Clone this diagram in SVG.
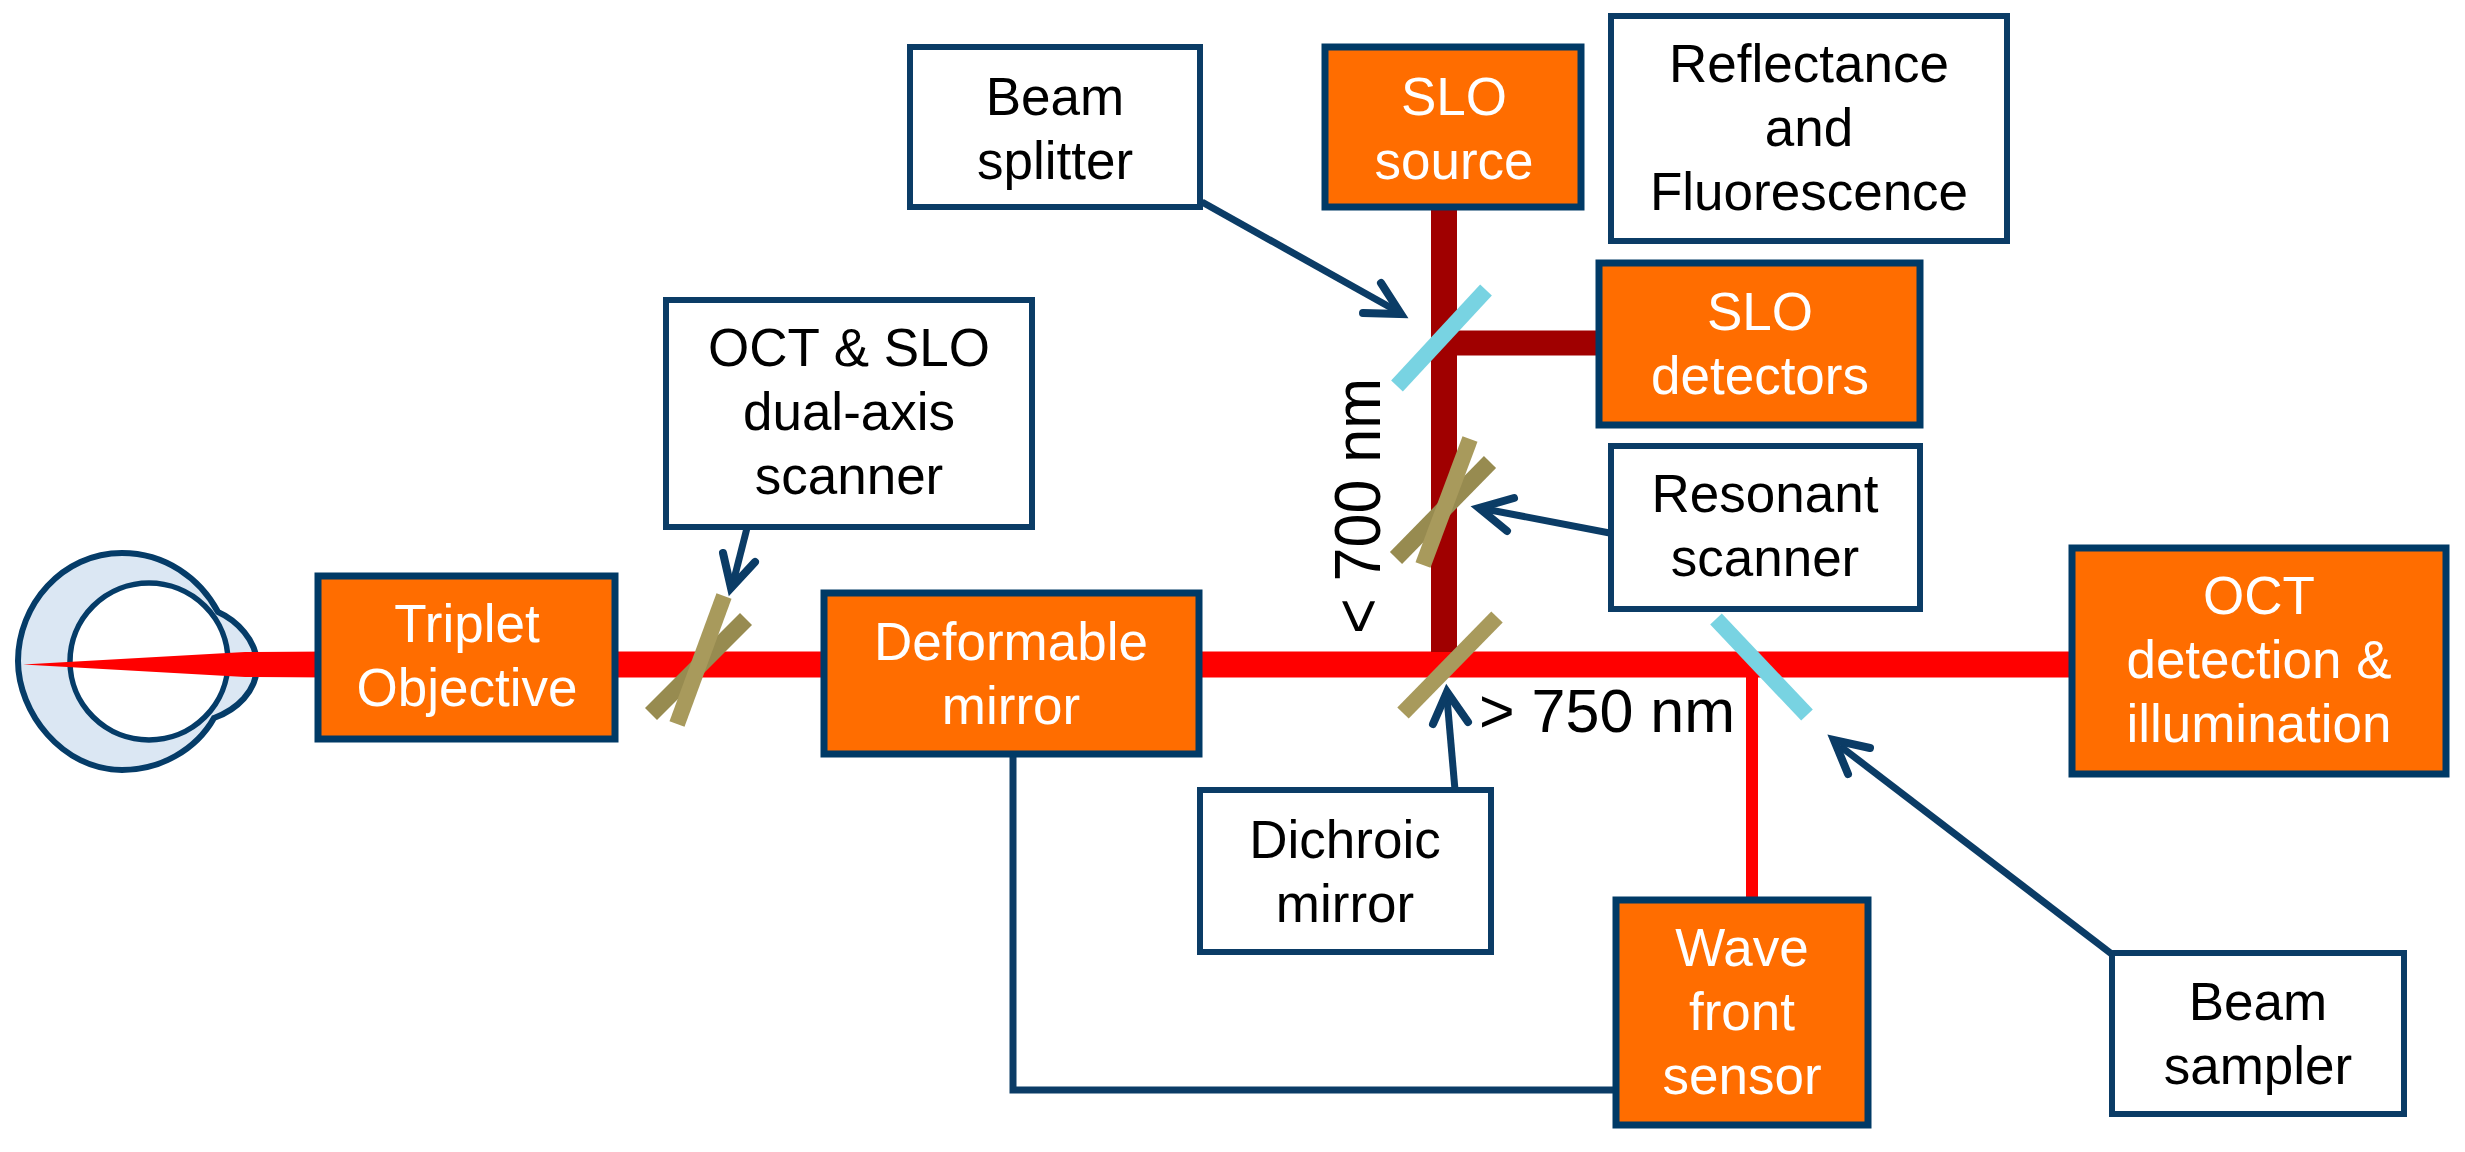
<svg xmlns="http://www.w3.org/2000/svg" width="2465" height="1152" viewBox="0 0 2465 1152">
<style>
.o{fill:#ff6d00;stroke:#003a66;stroke-width:7}
.w{fill:#fff;stroke:#0b3c66;stroke-width:6}
.t{font-family:"Liberation Sans",Arial,sans-serif;font-size:53px;text-anchor:middle}
.tw{fill:#fff}.tk{fill:#000}
.red{stroke:#f00;fill:none}
.dr{stroke:#a00000;fill:none}
.arr{stroke:#0b3c66;stroke-width:7;fill:none}
.head{stroke:#0b3c66;stroke-width:8;fill:none;stroke-linejoin:miter;stroke-linecap:round}
.ol{stroke:#a89a5c;stroke-width:16;fill:none}
.ol2{stroke:#978b50;stroke-width:17;fill:none}
.cy{stroke:#78d3e2;stroke-width:16;fill:none}
.eye{fill:#dbe7f3;stroke:#053c68;stroke-width:6}
</style>
<g id="eye">
<path class="eye" d="M218 612C236 620 257 640 257 665C257 692 236 710 214 718C196 750 160 770 122 770C62 770 18 712 18 661C18 605 62 553 122 553C165 553 200 578 218 612Z"/>
<ellipse cx="149" cy="661.500" rx="79" ry="78.500" fill="#fff" stroke="#053c68" stroke-width="5.500"/>
</g>
<g id="connectors">
<path d="M23 664.500L245 652L330 651.500V677.500L245 677Z" fill="#f00"/>
<path class="red" stroke-width="26" d="M600 664.500H2090"/>
<path class="dr" stroke-width="26" d="M1444 200V652"/>
<path class="dr" stroke-width="25" d="M1444 343H1600"/>
<path class="red" stroke-width="12" d="M1752 665V905"/>
<path class="arr" d="M1013 750V1090H1618"/>
<path class="arr" d="M747 528L733 583"/><path class="head" d="M723 553L731 588L755 562"/>
<path class="arr" d="M1202 202L1395 310"/><path class="head" d="M1381 283L1401 314L1363 313"/>
<path class="arr" d="M1620 535L1485 509"/><path class="head" d="M1514 498L1479 508L1507 531"/>
<path class="arr" d="M1455 790L1447 698"/><path class="head" d="M1433 724L1447 692L1468 722"/>
<path class="arr" d="M2113 955L1840 746"/><path class="head" d="M1870 748L1834 740L1848 774"/>
</g>
<g id="dual-axis-mirror"><path class="ol2" d="M746 619L651 714"/><path class="ol" d="M724 596L677 724"/></g>
<g id="resonant-mirror"><path class="ol2" d="M1490 462L1396 558"/><path class="ol" d="M1470 439L1423 565"/></g>
<g id="dichroic-mirror-shape"><path class="ol" d="M1497 617L1403 713"/></g>
<g id="beam-splitter-shape"><path class="cy" d="M1486 290L1397 386"/></g>
<g id="beam-sampler-shape"><path class="cy" d="M1716 619L1807 715"/></g>
<g id="triplet"><rect class="o" x="318" y="576" width="297" height="163"/><text class="t tw" x="467" y="642">Triplet</text><text class="t tw" x="467" y="706">Objective</text></g>
<g id="deformable"><rect class="o" x="824" y="593" width="375" height="161"/><text class="t tw" x="1011" y="660">Deformable</text><text class="t tw" x="1011" y="724">mirror</text></g>
<g id="slo-source"><rect class="o" x="1325" y="47" width="256" height="160"/><text class="t tw" x="1454" y="115">SLO</text><text class="t tw" x="1454" y="179">source</text></g>
<g id="reflectance"><rect class="w" x="1611" y="16" width="396" height="225"/><text class="t tk" x="1809" y="82">Reflectance</text><text class="t tk" x="1809" y="146">and</text><text class="t tk" x="1809" y="210">Fluorescence</text></g>
<g id="beam-splitter"><rect class="w" x="910" y="47" width="290" height="160"/><text class="t tk" x="1055" y="115">Beam</text><text class="t tk" x="1055" y="179">splitter</text></g>
<g id="slo-detectors"><rect class="o" x="1599" y="263" width="321" height="162"/><text class="t tw" x="1760" y="330">SLO</text><text class="t tw" x="1760" y="394">detectors</text></g>
<g id="scanner"><rect class="w" x="666" y="300" width="366" height="227"/><text class="t tk" x="849" y="366">OCT &amp; SLO</text><text class="t tk" x="849" y="430">dual-axis</text><text class="t tk" x="849" y="494">scanner</text></g>
<g id="resonant"><rect class="w" x="1611" y="446" width="309" height="163"/><text class="t tk" x="1765" y="512">Resonant</text><text class="t tk" x="1765" y="576">scanner</text></g>
<g id="oct"><rect class="o" x="2072" y="548" width="374" height="226"/><text class="t tw" x="2259" y="614">OCT</text><text class="t tw" x="2259" y="678">detection &amp;</text><text class="t tw" x="2259" y="742">illumination</text></g>
<g id="dichroic"><rect class="w" x="1200" y="790" width="291" height="162"/><text class="t tk" x="1345" y="858">Dichroic</text><text class="t tk" x="1345" y="922">mirror</text></g>
<g id="wavefront"><rect class="o" x="1616" y="900" width="252" height="225"/><text class="t tw" x="1742" y="966">Wave</text><text class="t tw" x="1742" y="1030">front</text><text class="t tw" x="1742" y="1094">sensor</text></g>
<g id="beam-sampler"><rect class="w" x="2112" y="953" width="292" height="161"/><text class="t tk" x="2258" y="1020">Beam</text><text class="t tk" x="2258" y="1084">sampler</text></g>
<g id="labels">
<text class="t tk" style="font-size:61px;text-anchor:start" x="1479" y="732">&gt; 750 nm</text>
<text class="t tk" style="font-size:61px" transform="translate(1380 506) rotate(-90) scale(1 1.07)">&lt; 700 nm</text>
</g>
</svg>
